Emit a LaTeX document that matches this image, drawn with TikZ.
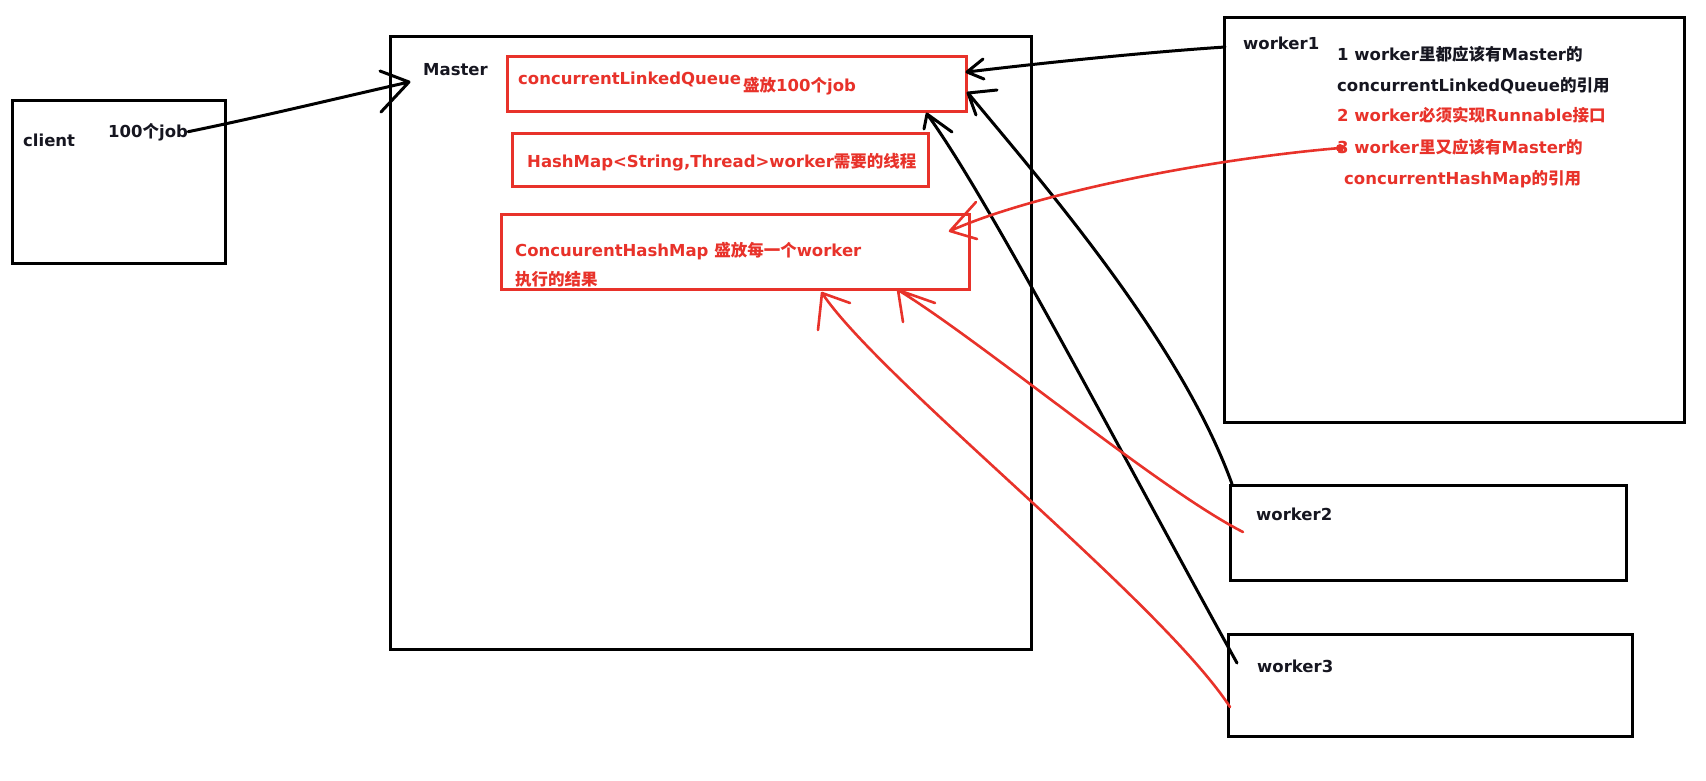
\documentclass[tikz,border=0pt]{standalone}
\usepackage{fontspec}
\setmainfont{DejaVu Sans}
\newfontfamily\cjk{Noto Sans CJK SC}
\definecolor{pen}{RGB}{232,50,42}
\definecolor{ink}{RGB}{22,22,32}
\newcommand\zh[1]{{\cjk #1}}
\begin{document}
\begin{tikzpicture}[x=1pt,y=-1pt,
  box/.style={draw=black, line width=3pt, inner sep=0pt, anchor=north west},
  rbox/.style={draw=pen, line width=2.6pt, inner sep=0pt, anchor=north west},
  lbl/.style={anchor=base west, inner sep=0pt, text=ink, font=\fontsize{16.5}{20}\selectfont\bfseries},
  rlbl/.style={lbl, text=pen},
  blk/.style={draw=black, line width=3pt, line cap=round, line join=round},
  rarr/.style={draw=pen, line width=2.6pt, line cap=round, line join=round}]
\fill[white] (0,0) rectangle (1706,780);
\useasboundingbox (0,0) rectangle (1706,780);
% boxes
\node[box, minimum width=213pt, minimum height=163pt] (client) at (11,99) {};
\node[box, minimum width=641pt, minimum height=613pt] (master) at (389,35) {};
\node[rbox, minimum width=459pt, minimum height=55pt] (queue) at (506,55) {};
\node[rbox, minimum width=416pt, minimum height=53pt] (threads) at (511,132) {};
\node[rbox, minimum width=468pt, minimum height=75pt] (results) at (500,213) {};
\node[box, minimum width=460pt, minimum height=405pt] (worker1) at (1223,16) {};
\node[box, minimum width=396pt, minimum height=95pt] (worker2) at (1229,484) {};
\node[box, minimum width=404pt, minimum height=102pt] (worker3) at (1227,633) {};
% labels
\node[lbl] (clientlbl) at (23,146) {client};
\node[lbl] (job) at (108,137) {100\zh{个}job};
\node[lbl] (masterlbl) at (423,75) {Master};
\node[rlbl] (qlbl) at (518,84) {concurrentLinkedQueue};
\node[rlbl] (qlbl2) at (743,91) {\zh{盛放}100\zh{个}job};
\node[rlbl] (tlbl) at (527,167) {HashMap<String,Thread>worker\zh{需要的线程}};
\node[rlbl] (rlbl1) at (515,256) {ConcuurentHashMap \zh{盛放每一个}worker};
\node[rlbl] (rlbl2) at (515,285) {\zh{执行的结果}};
\node[lbl] (w1lbl) at (1243,49) {worker1};
\node[lbl] (n1) at (1337,60) {1 worker\zh{里都应该有}Master\zh{的}};
\node[lbl] (n2) at (1337,91) {concurrentLinkedQueue\zh{的引用}};
\node[rlbl] (n3) at (1337,121) {2 worker\zh{必须实现}Runnable\zh{接口}};
\node[rlbl] (n4) at (1337,153) {3 worker\zh{里又应该有}Master\zh{的}};
\node[rlbl] (n5) at (1344,184) {concurrentHashMap\zh{的引用}};
\node[lbl] (w2lbl) at (1256,520) {worker2};
\node[lbl] (w3lbl) at (1257,672) {worker3};
% connector end points
\coordinate (mtip) at (409,82);
\coordinate (w1a) at (1225,47);
\coordinate (qtip1) at (967,72);
\coordinate (w2a) at (1232,484);
\coordinate (qtip2) at (968,93);
\coordinate (w3a) at (1237,663);
\coordinate (qtip3) at (927,114);
\coordinate (r1a) at (1340,148);
\coordinate (rtip1) at (950,231);
\coordinate (r2a) at (1243,532);
\coordinate (rtip2) at (898,290);
\coordinate (r3a) at (1230,707);
\coordinate (rtip3) at (822,293);
% black connectors
\draw[blk] (job.east) .. controls (260,117) and (330,100) .. (mtip) -- ++(-29,-11) (mtip) -- ++(-28,30);
\draw[blk] (w1a) .. controls (1150,52) and (1050,62) .. (qtip1) -- ++(16,-13) (qtip1) -- ++(17,7);
\draw[blk] (w2a) .. controls (1180,340) and (1040,180) .. (qtip2) -- ++(29,-3) (qtip2) -- ++(8,22);
\draw[blk] (w3a) .. controls (1130,470) and (990,200) .. (qtip3) -- ++(-3,15) (qtip3) -- ++(25,18);
% red connectors
\draw[rarr] (r1a) .. controls (1200,160) and (1030,195) .. (rtip1) -- ++(26,-29) (rtip1) -- ++(27,8);
\fill[pen] (r1a) circle (4);
\draw[rarr] (r2a) .. controls (1160,490) and (980,340) .. (rtip2) -- ++(37,13) (rtip2) -- ++(5,32);
\draw[rarr] (r3a) .. controls (1160,600) and (880,380) .. (rtip3) -- ++(28,10) (rtip3) -- ++(-4,37);
\end{tikzpicture}
\end{document}
